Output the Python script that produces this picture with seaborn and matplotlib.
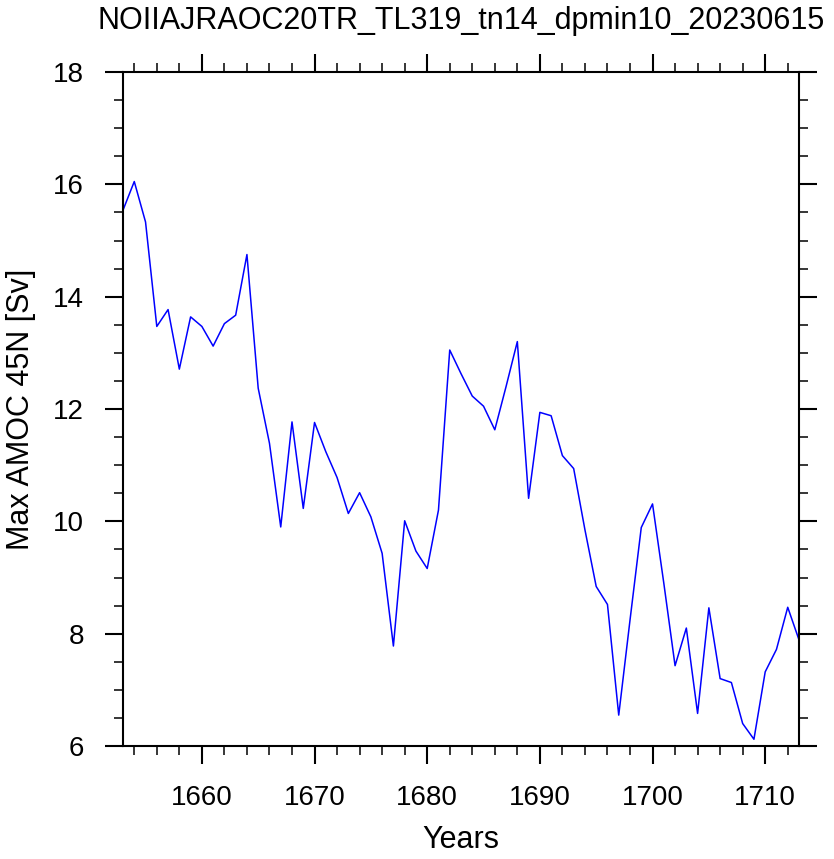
# -*- coding: utf-8 -*-
import numpy as np
import pandas as pd
import matplotlib
matplotlib.use('Agg')
import matplotlib.pyplot as plt
from matplotlib.ticker import MultipleLocator
import seaborn as sns

# 연도 (1653-1713)
years = list(range(1653, 1714))

# 45N 최대 AMOC [Sv] - 그림에서 읽은 값
amoc = [15.54, 16.05, 15.33, 13.47, 13.77, 12.71, 13.64, 13.47, 13.12, 13.52,
        13.67, 14.75, 12.37, 11.39, 9.90, 11.77, 10.23, 11.76, 11.24, 10.78,
        10.14, 10.51, 10.08, 9.43, 7.78, 10.01, 9.47, 9.16, 10.20, 13.05,
        12.63, 12.23, 12.05, 11.63, 12.40, 13.20, 10.41, 11.94, 11.88, 11.17,
        10.94, 9.85, 8.84, 8.52, 6.55, 8.24, 9.89, 10.31, 8.90, 7.43,
        8.10, 6.58, 8.46, 7.20, 7.13, 6.40, 6.12, 7.32, 7.72, 8.47,
        7.89]

x_ticks = [1660, 1670, 1680, 1690, 1700, 1710]
y_ticks = [6, 8, 10, 12, 14, 16, 18]

title = 'NOIIAJRAOC20TR_TL319_tn14_dpmin10_20230615'

df = pd.DataFrame({'year': years, 'amoc': amoc})

# 스타일 설정
sns.set_style('ticks')
plt.rcParams['font.family'] = ['Liberation Sans', 'DejaVu Sans']
# 글자, 눈금 모두 검정색
plt.rcParams['text.color'] = 'black'
plt.rcParams['axes.labelcolor'] = 'black'
plt.rcParams['xtick.color'] = 'black'
plt.rcParams['ytick.color'] = 'black'

fig = plt.figure(figsize=(8.34, 8.59), dpi=100)
ax = fig.add_axes([123 / 834, 1 - 746 / 859, 676 / 834, 674 / 859])

sns.lineplot(x='year', y='amoc', data=df, ax=ax, color='#0000ff', linewidth=1.1)

ax.set_xlim(1653, 1713)
ax.set_ylim(6, 18)
ax.set_xticks(x_ticks)
ax.set_yticks(y_ticks)
ax.xaxis.set_minor_locator(MultipleLocator(2))
ax.yaxis.set_minor_locator(MultipleLocator(0.5))

# 네 방향 모두 바깥쪽 눈금
ax.tick_params(which='both', direction='out', top=True, right=True,
               labeltop=False, labelright=False)
ax.tick_params(which='major', length=13, width=1.5, labelsize=20, pad=15)
ax.tick_params(which='minor', length=6.5, width=1.1)
for s in ax.spines.values():
    s.set_linewidth(1.5)
    s.set_color('black')

ax.set_xlabel('Years', fontsize=22, labelpad=10)
ax.set_ylabel('Max AMOC 45N [Sv]', fontsize=22, labelpad=12)
ax.set_title(title, fontsize=22, pad=31)

plt.savefig('out.png', dpi=100)
